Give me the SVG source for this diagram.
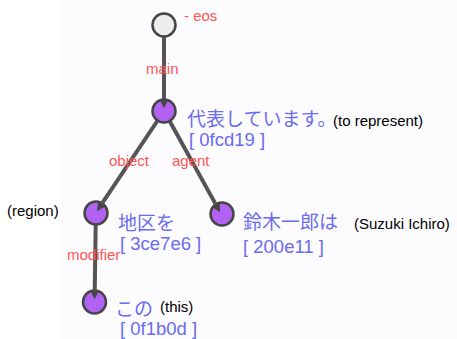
<svg xmlns="http://www.w3.org/2000/svg" width="457" height="339" viewBox="0 0 457 339">
<style>
.bg{fill:#fcfcfe}
.node{fill:#b262f2;stroke:#454545;stroke-width:2.5}
.root{fill:#eeeeee;stroke:#454545;stroke-width:2.5}
.edge{stroke:#555555;stroke-width:4;fill:none}
.lbl{font-family:"Liberation Sans",Arial,sans-serif;font-size:15px;fill:#ff5555}
.jp{font-family:"Liberation Sans","Noto Sans CJK JP",sans-serif;font-size:19px;fill:#6b6bef}
.id{font-family:"Liberation Sans",Arial,sans-serif;font-size:18.5px;fill:#6b6bef}
.en{font-family:"Liberation Sans",Arial,sans-serif;font-size:15px;fill:#000000}
</style>
<defs>
<marker id="arr" viewBox="0 0 10 10" refX="2" refY="5" markerWidth="9" markerHeight="9" markerUnits="userSpaceOnUse" orient="auto">
<path d="M0,0 L10,5 L0,10 z" fill="#454545"/>
</marker>
</defs>
<rect class="bg" x="61" y="0" width="396" height="339"/>
<g id="n-eos">
<circle class="root" cx="164" cy="25" r="11.5"/>
<text class="lbl" x="184" y="21">- eos</text>
</g>
<g id="n-represent">
<circle class="node" cx="164" cy="111" r="11.5"/>
<text class="jp" x="187" y="126">代表しています。</text>
<text class="en" x="333" y="126">(to represent)</text>
<text class="id" x="189" y="146">[ 0fcd19 ]</text>
</g>
<g id="n-region">
<circle class="node" cx="96" cy="213" r="11.5"/>
<text class="jp" x="118" y="230">地区を</text>
<text class="en" x="7" y="216">(region)</text>
<text class="id" x="120" y="250">[ 3ce7e6 ]</text>
</g>
<g id="n-suzuki">
<circle class="node" cx="222" cy="214" r="11.5"/>
<text class="jp" x="243" y="229">鈴木一郎は</text>
<text class="en" x="354" y="229">(Suzuki Ichiro)</text>
<text class="id" x="243" y="253">[ 200e11 ]</text>
</g>
<g id="n-this">
<circle class="node" cx="94.5" cy="302" r="11.5"/>
<text class="jp" x="115" y="316">この</text>
<text class="en" x="160" y="312">(this)</text>
<text class="id" x="120" y="335">[ 0f1b0d ]</text>
</g>
<g id="connectors">
<line class="edge" x1="164" y1="37" x2="164" y2="101" marker-end="url(#arr)"/>
<line class="edge" x1="157.3" y1="121" x2="100.9" y2="205.2" marker-end="url(#arr)"/>
<line class="edge" x1="169.9" y1="121.5" x2="216.6" y2="205.9" marker-end="url(#arr)"/>
<line class="edge" x1="95.7" y1="225" x2="94.7" y2="292" marker-end="url(#arr)"/>
<text class="lbl" x="146" y="74">main</text>
<text class="lbl" x="109" y="166">object</text>
<text class="lbl" x="172" y="166">agent</text>
<text class="lbl" x="67" y="260">modifier</text>
</g>
</svg>
